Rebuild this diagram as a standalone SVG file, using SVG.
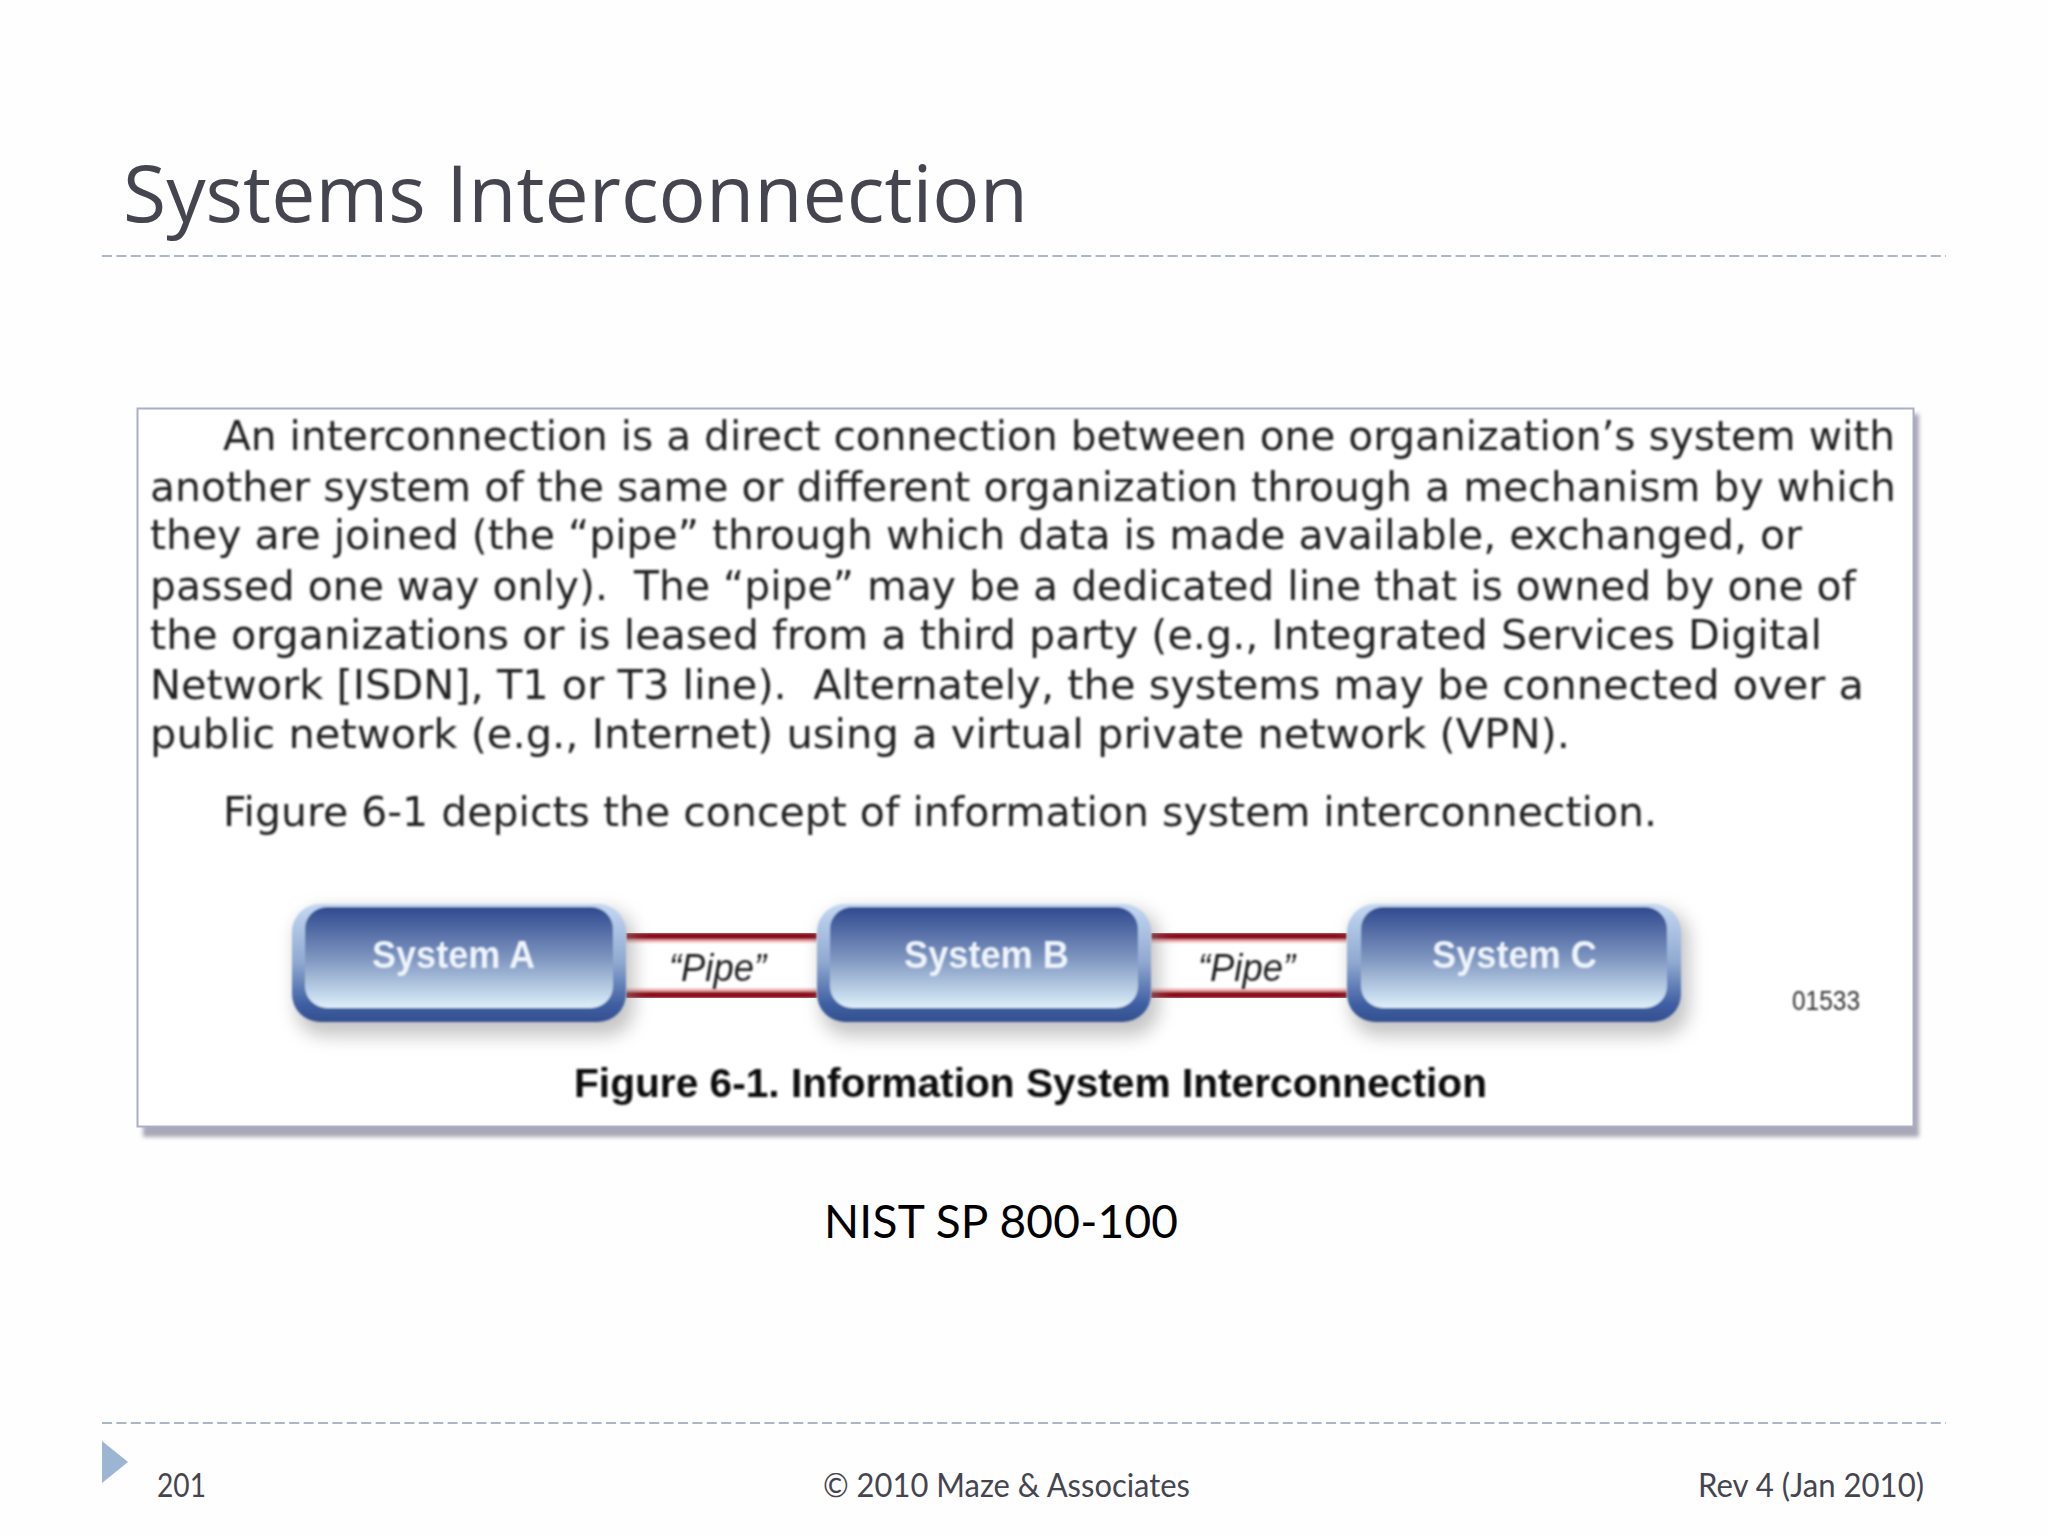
<svg xmlns="http://www.w3.org/2000/svg" width="2048" height="1536" viewBox="0 0 2048 1536">
<defs>
<style>
text{white-space:pre}
.body{font-family:"DejaVu Sans",sans-serif;font-size:40px;fill:#222}
.ft{font-family:Lato,"Noto Sans",sans-serif;font-size:33px;fill:#45454f}
.sys{font-family:"Liberation Sans",Arial,sans-serif;font-weight:bold;font-size:39px;fill:#eef4fa}
.pipe{font-family:"Liberation Sans",Arial,sans-serif;font-style:italic;font-size:38px;fill:#222}
.pl{stroke:#8c0a1c;stroke-width:7;fill:none}
.dash{stroke:#a9b7c6;stroke-width:2;stroke-dasharray:10 4.4;fill:none}
</style>
<linearGradient id="fill" x1="0" y1="0" x2="0" y2="1">
<stop offset="0" stop-color="#2f4a8f"/><stop offset=".5" stop-color="#7d94bf"/><stop offset="1" stop-color="#dcf0fa"/>
</linearGradient>
<linearGradient id="rim" x1="0" y1="0" x2="0" y2="1">
<stop offset="0" stop-color="#c4d8f2"/><stop offset=".5" stop-color="#8ea8d0"/><stop offset=".85" stop-color="#3f5fa3"/><stop offset="1" stop-color="#34508f"/>
</linearGradient>
<filter id="soft" x="-5%" y="-5%" width="110%" height="110%"><feGaussianBlur stdDeviation="0.8"/></filter>
<filter id="node" x="-5%" y="-10%" width="110%" height="120%"><feGaussianBlur stdDeviation="1.3"/></filter>
<filter id="panel" x="-2%" y="-2%" width="104%" height="104%"><feGaussianBlur stdDeviation="2"/></filter>
<filter id="sh" x="-15%" y="-30%" width="130%" height="160%"><feGaussianBlur stdDeviation="9"/></filter>
</defs>
<rect width="2048" height="1536" fill="#fefefe"/>
<text x="123" y="222" font-family="'Open Sans','Noto Sans',sans-serif" font-size="79" fill="#45454f" textLength="905" lengthAdjust="spacingAndGlyphs">Systems Interconnection</text>
<path class="dash" d="M102 256H1946"/>
<path class="dash" d="M102 1423H1946"/>
<g id="figure-panel">
<rect x="143" y="414" width="1776" height="723" fill="#a8a8b6" filter="url(#panel)"/>
<rect x="137.500" y="408.500" width="1776" height="718" fill="#fff" stroke="#aaaecb" stroke-width="2"/>
</g>
<g filter="url(#soft)">
<text class="body" lengthAdjust="spacingAndGlyphs" x="223" y="450" textLength="1672">An interconnection is a direct connection between one organization’s system with</text>
<text class="body" lengthAdjust="spacingAndGlyphs" x="150" y="501" textLength="1746">another system of the same or different organization through a mechanism by which</text>
<text class="body" lengthAdjust="spacingAndGlyphs" x="150" y="549" textLength="1652">they are joined (the “pipe” through which data is made available, exchanged, or</text>
<text class="body" lengthAdjust="spacingAndGlyphs" x="150" y="600" textLength="1706">passed one way only).  The “pipe” may be a dedicated line that is owned by one of</text>
<text class="body" lengthAdjust="spacingAndGlyphs" x="150" y="649" textLength="1672">the organizations or is leased from a third party (e.g., Integrated Services Digital</text>
<text class="body" lengthAdjust="spacingAndGlyphs" x="150" y="699" textLength="1714">Network [ISDN], T1 or T3 line).  Alternately, the systems may be connected over a</text>
<text class="body" lengthAdjust="spacingAndGlyphs" x="150" y="748" textLength="1420">public network (e.g., Internet) using a virtual private network (VPN).</text>
<text class="body" lengthAdjust="spacingAndGlyphs" x="223" y="826" textLength="1434">Figure 6-1 depicts the concept of information system interconnection.</text>
</g>
<g id="connectors" filter="url(#soft)">
<path d="M626 936H817M626 995H817M1151 936H1347M1151 995H1347" stroke="#f2b4b4" stroke-width="13" fill="none"/>
<path class="pl" d="M626 936H817M626 995H817M1151 936H1347M1151 995H1347"/>
</g>
<g id="system-a">
<rect x="296" y="910" width="338" height="126" rx="28" fill="#8c8c8c" opacity=".5" filter="url(#sh)"/>
<g filter="url(#node)">
<rect x="292" y="904" width="334" height="118" rx="28" fill="url(#rim)"/>
<rect x="305" y="907" width="308" height="101" rx="22" fill="url(#fill)"/>
</g>
<text class="sys" x="372" y="968" textLength="163" lengthAdjust="spacingAndGlyphs" filter="url(#soft)">System A</text>
</g>
<g id="system-b">
<rect x="821" y="910" width="338" height="126" rx="28" fill="#8c8c8c" opacity=".5" filter="url(#sh)"/>
<g filter="url(#node)">
<rect x="817" y="904" width="334" height="118" rx="28" fill="url(#rim)"/>
<rect x="830" y="907" width="308" height="101" rx="22" fill="url(#fill)"/>
</g>
<text class="sys" x="904" y="968" textLength="165" lengthAdjust="spacingAndGlyphs" filter="url(#soft)">System B</text>
</g>
<g id="system-c">
<rect x="1351" y="910" width="338" height="126" rx="28" fill="#8c8c8c" opacity=".5" filter="url(#sh)"/>
<g filter="url(#node)">
<rect x="1347" y="904" width="334" height="118" rx="28" fill="url(#rim)"/>
<rect x="1361" y="907" width="306" height="101" rx="22" fill="url(#fill)"/>
</g>
<text class="sys" x="1432" y="968" textLength="165" lengthAdjust="spacingAndGlyphs" filter="url(#soft)">System C</text>
</g>
<g filter="url(#soft)">
<text class="pipe" x="669" y="981" textLength="97" lengthAdjust="spacingAndGlyphs">“Pipe”</text>
<text class="pipe" x="1198" y="981" textLength="97" lengthAdjust="spacingAndGlyphs">“Pipe”</text>
<text x="1792" y="1010" font-family="'Liberation Sans',Arial,sans-serif" font-size="28" fill="#333" textLength="68" lengthAdjust="spacingAndGlyphs">01533</text>
<text x="574" y="1097" font-family="'Liberation Sans',Arial,sans-serif" font-weight="bold" font-size="40" fill="#111" textLength="913" lengthAdjust="spacingAndGlyphs">Figure 6-1. Information System Interconnection</text>
</g>
<text x="824" y="1238" font-family="Lato,'Noto Sans',sans-serif" font-size="46" fill="#000" textLength="354">NIST SP 800-100</text>
<polygon points="102,1441 128,1462 102,1483" fill="#9bb5d3"/>
<text class="ft" x="157" y="1497" textLength="49" lengthAdjust="spacingAndGlyphs">201</text>
<text class="ft" x="823" y="1497" textLength="367" lengthAdjust="spacingAndGlyphs">© 2010 Maze &amp; Associates</text>
<text class="ft" x="1698" y="1497" textLength="226" lengthAdjust="spacingAndGlyphs">Rev 4 (Jan 2010)</text>
</svg>
